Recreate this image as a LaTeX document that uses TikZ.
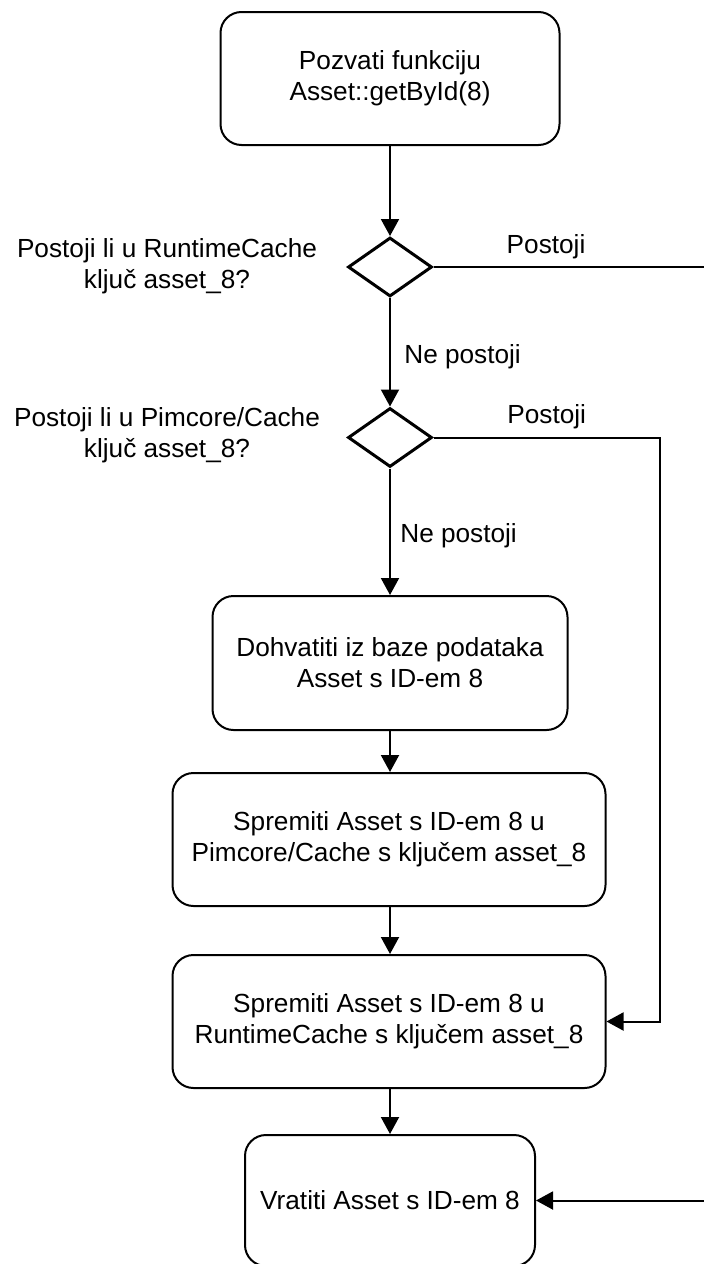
\documentclass[tikz,border=0pt]{standalone}
\usepackage{fontspec}
\setmainfont{Liberation Sans}
\usetikzlibrary{shapes.geometric,arrows.meta}
\tikzset{
  txt/.style={font=\fontsize{26.2}{31}\selectfont, align=center, text=black},
  stepbox/.style={txt, draw=black, line width=2pt, rounded corners=21pt, inner sep=0pt},
  decision/.style={draw=black, line width=3pt, shape=diamond, aspect=1.4, minimum width=84pt, minimum height=59pt, inner sep=0pt},
  arr/.style={draw=black, line width=2pt, -{Triangle[length=17pt,width=18pt]}},
  ln/.style={draw=black, line width=2pt},
  lbl/.style={txt}
}
\begin{document}
\begin{tikzpicture}[x=1pt,y=-1pt]
\useasboundingbox (0,0) rectangle (704,1264);
\clip (0,0) rectangle (704,1264);
\fill[white] (0,0) rectangle (704,1264);

\node[stepbox, minimum width=339pt, minimum height=133pt] (b1) at (390,78.5) {Pozvati funkciju\\Asset::getById(8)};
\node[decision] (d1) at (390,267) {};
\node[lbl] (q1) at (167,266) {Postoji li u RuntimeCache\\ključ asset\_8?};
\node[decision] (d2) at (390,437.5) {};
\node[lbl] (q2) at (167,435) {Postoji li u Pimcore/Cache\\ključ asset\_8?};
\node[stepbox, minimum width=355pt, minimum height=134pt] (b2) at (390,663) {Dohvatiti iz baze podataka\\Asset s ID-em 8};
\node[stepbox, minimum width=433pt, minimum height=133pt] (b3) at (389,839.5) {Spremiti Asset s ID-em 8 u\\Pimcore/Cache s ključem asset\_8};
\node[stepbox, minimum width=433pt, minimum height=133pt] (b4) at (389,1021.5) {Spremiti Asset s ID-em 8 u\\RuntimeCache s ključem asset\_8};
\node[stepbox, minimum width=290pt, minimum height=131pt] (b5) at (390,1200.5) {Vratiti Asset s ID-em 8};

\coordinate (r1) at (708,267);
\coordinate (r2) at (708,1200.5);
\coordinate (c2) at (660,437.5);

\draw[arr] (b1.south) -- (d1.north);
\draw[arr] (d1.south) -- node[lbl, anchor=west, xshift=10pt, yshift=-4pt] (l2) {Ne postoji} (d2.north);
\draw[ln] (d1.east) -- node[lbl, pos=0.41, anchor=south, yshift=4pt] (l1) {Postoji} (r1);
\draw[arr] (r2) -- (b5.east);
\draw[arr] (d2.east) -- node[lbl, pos=0.5, anchor=south, yshift=4pt] (l3) {Postoji} (c2) |- (b4.east);
\draw[arr] (d2.south) -- node[lbl, anchor=west, xshift=6pt, yshift=-4pt] (l4) {Ne postoji} (b2.north);
\draw[arr] (b2.south) -- (b2.south |- b3.north);
\draw[arr] (b3.south -| b2.south) -- (b2.south |- b4.north);
\draw[arr] (b4.south -| b2.south) -- (b5.north);
\end{tikzpicture}
\end{document}
